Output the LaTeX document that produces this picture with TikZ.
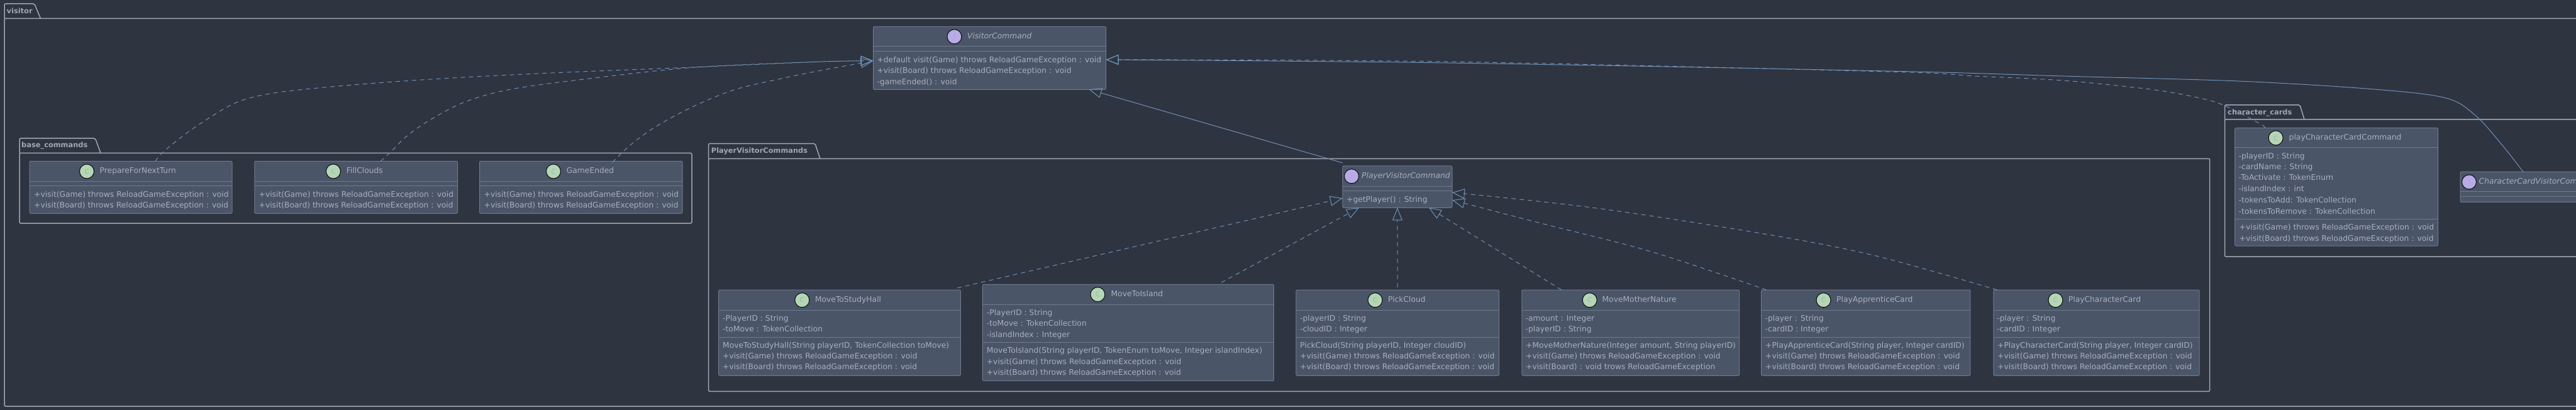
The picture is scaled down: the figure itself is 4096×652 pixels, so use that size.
\documentclass[tikz,border=0pt]{standalone}
\usepackage{fontspec}
\setmainfont{DejaVu Sans}
\usetikzlibrary{arrows.meta}
\definecolor{bgc}{HTML}{2E3440}
\definecolor{boxc}{HTML}{4A5568}
\definecolor{boxl}{HTML}{6F7A8C}
\definecolor{txtc}{HTML}{AAB0BC}
\definecolor{pkgc}{HTML}{A0A6B2}
\definecolor{conc}{HTML}{6F93B8}
\definecolor{cgreen}{HTML}{B4D6B4}
\definecolor{cpurple}{HTML}{B9ABE6}
\definecolor{cletter}{HTML}{A9ACBC}
\tikzset{
  classbox/.style={draw=boxl,fill=boxc,line width=1pt,rounded corners=2pt,inner sep=0pt,outer sep=0pt},
  sepline/.style={draw=boxl,line width=1pt},
  pkgline/.style={draw=pkgc,line width=1.5pt,rounded corners=2pt},
  pkglabel/.style={anchor=mid west,inner sep=0pt,text=pkgc,font=\fontsize{11.4}{13}\selectfont\bfseries},
  member/.style={anchor=mid west,inner sep=0pt,text=txtc,font=\fontsize{12.3}{14}\selectfont},
  ctitle/.style={anchor=mid west,inner sep=0pt,text=txtc,font=\fontsize{12.3}{14}\selectfont},
  ititle/.style={anchor=mid west,inner sep=0pt,text=txtc,font=\fontsize{12.3}{14}\selectfont\itshape},
  badge/.style={circle,draw=black!80!bgc,line width=1pt,minimum size=23pt,inner sep=0pt,text=cletter,font=\fontsize{10}{12}\selectfont},
  impl/.style={draw=conc,line width=1pt,dash pattern=on 7pt off 6pt,-{Triangle[open,length=20pt,width=16pt]}},
  ext/.style={draw=conc,line width=1pt,-{Triangle[open,length=20pt,width=16pt]}}
}
\newcommand{\pkgframe}[7]{% x1 ytab r1 r2 yline x2 y2
  \draw[pkgline] (#1,#5) -- (#1,#2) -- (#3,#2) -- (#4,#5);
  \draw[pkgline] (#1,#5) rectangle (#6,#7);
}
\newcommand{\cbox}[7]{% name x1 y1 x2 y2 yh ys
  \pgfmathsetmacro\cbw{#4-#2}\pgfmathsetmacro\cbh{#5-#3}
  \pgfmathsetmacro\cbx{(#2+#4)/2}\pgfmathsetmacro\cby{(#3+#5)/2}
  \node[classbox,minimum width=\cbw pt,minimum height=\cbh pt] (#1) at (\cbx,\cby) {};
  \draw[sepline] (#2,#6) -- (#4,#6);
  \draw[sepline] (#2,#7) -- (#4,#7);
}
\newcommand{\chead}[6]{%
  \node[badge,fill=cgreen] (#1-c) at (#2,#3) {C};
  \node[ctitle] (#1-t) at (#4,#5) {#6};
}
\newcommand{\ihead}[6]{%
  \node[badge,fill=cpurple] (#1-c) at (#2,#3) {I};
  \node[ititle] (#1-t) at (#4,#5) {#6};
}
\newcommand{\mline}[5]{\node[member] (#1-#2) at (#3,#4) {#5};}
\newcommand{\vGame}{+visit(Game) throws ReloadGameException : void}
\newcommand{\vBoard}{+visit(Board) throws ReloadGameException : void}
\begin{document}
\begin{tikzpicture}[x=1pt,y=-1pt]
\useasboundingbox (0,0) rectangle (4096,652);
\clip (0,0) rectangle (4096,652);
\fill[bgc] (0,0) rectangle (4096,652);

% packages
\pkgframe{7}{6}{54.7}{64.5}{29.3}{4200}{646}
\node[pkglabel] (lvisitor) at (10.5,18.3) {visitor};
\pkgframe{31}{220}{151.5}{160}{243.5}{1100}{355}
\node[pkglabel] (lbase) at (34,232) {base\_commands};
\pkgframe{1126.7}{228.3}{1296}{1304}{252.3}{3513.7}{622.3}
\node[pkglabel] (lplayer) at (1130.7,240.3) {PlayerVisitorCommands};
\pkgframe{3537.5}{167}{3657}{3664}{190}{4200}{408}
\node[pkglabel] (lchar) at (3542,179.6) {character\_cards};

% VisitorCommand
\cbox{vc}{1388.6}{42.3}{1758.5}{142.3}{74}{82}
\ihead{vc}{1517.5}{58.3}{1538}{59}{VisitorCommand}
\mline{vc}{1}{1394.4}{96.3}{+default visit(Game) throws ReloadGameException : void}
\mline{vc}{2}{1394.4}{113.7}{+visit(Board) throws ReloadGameException : void}
\mline{vc}{3}{1394.4}{131.3}{-gameEnded() : void}

% base commands
\cbox{pfnt}{47}{256.3}{369}{339.3}{288.3}{296}
\chead{pfnt}{138}{272.5}{158.5}{273}{PrepareForNextTurn}
\mline{pfnt}{1}{54}{310.3}{\vGame}
\mline{pfnt}{2}{54}{327.3}{\vBoard}
\cbox{fc}{404.8}{256.3}{727.5}{339.3}{288.3}{296}
\chead{fc}{530}{272.5}{550.7}{273}{FillClouds}
\mline{fc}{1}{411.5}{310.3}{\vGame}
\mline{fc}{2}{411.5}{327.3}{\vBoard}
\cbox{ge}{762.5}{256.3}{1085}{339.3}{288.3}{296}
\chead{ge}{880}{272.5}{900.7}{273}{GameEnded}
\mline{ge}{1}{769.5}{310.3}{\vGame}
\mline{ge}{2}{769.5}{327.3}{\vBoard}

% PlayerVisitorCommand
\cbox{pvc}{2134.8}{264}{2309}{330.3}{296.3}{304}
\ihead{pvc}{2149}{280.3}{2165}{281}{PlayerVisitorCommand}
\mline{pvc}{1}{2141}{318.7}{+getPlayer() : String}

% player commands
\cbox{msh}{1142.7}{461}{1527.3}{597.3}{493.3}{536}
\chead{msh}{1275.4}{477.3}{1295.8}{478}{MoveToStudyHall}
\mline{msh}{1}{1149}{507.3}{-PlayerID : String}
\mline{msh}{2}{1149}{524.3}{-toMove : TokenCollection}
\mline{msh}{3}{1149}{550.3}{MoveToStudyHall(String playerID, TokenCollection toMove)}
\mline{msh}{4}{1149}{567.3}{\vGame}
\mline{msh}{5}{1149}{585}{\vBoard}

\cbox{mti}{1562.4}{452.3}{2025.4}{605.7}{484.3}{544.3}
\chead{mti}{1745.4}{468.3}{1766.4}{469}{MoveToIsland}
\mline{mti}{1}{1568.7}{498.3}{-PlayerID : String}
\mline{mti}{2}{1568.7}{515.3}{-toMove : TokenCollection}
\mline{mti}{3}{1568.7}{533.3}{-islandIndex : Integer}
\mline{mti}{4}{1568.7}{558.3}{MoveToIsland(String playerID, TokenEnum toMove, Integer islandIndex)}
\mline{mti}{5}{1568.7}{576.3}{\vGame}
\mline{mti}{6}{1568.7}{594}{\vBoard}

\cbox{pc}{2060.8}{461}{2383.5}{597.3}{493.3}{536}
\chead{pc}{2186.5}{477.3}{2206.9}{478}{PickCloud}
\mline{pc}{1}{2067}{507.3}{-playerID : String}
\mline{pc}{2}{2067}{524.3}{-cloudID : Integer}
\mline{pc}{3}{2067}{550.3}{PickCloud(String playerID, Integer cloudID)}
\mline{pc}{4}{2067}{567.3}{\vGame}
\mline{pc}{5}{2067}{585}{\vBoard}

\cbox{mmn}{2419.9}{461}{2765.5}{597.3}{493.3}{536}
\chead{mmn}{2527.7}{477.3}{2547.4}{478}{MoveMotherNature}
\mline{mmn}{1}{2425.5}{507.3}{-amount : Integer}
\mline{mmn}{2}{2425.5}{524.3}{-playerID : String}
\mline{mmn}{3}{2426}{550.3}{+MoveMotherNature(Integer amount, String playerID)}
\mline{mmn}{4}{2426}{567.3}{\vGame}
\mline{mmn}{5}{2426}{585}{+visit(Board) : void trows ReloadGameException}

\cbox{pac}{2800.6}{461}{3132.8}{597.3}{493.3}{536}
\chead{pac}{2899.5}{477.3}{2920}{478}{PlayApprenticeCard}
\mline{pac}{1}{2806.5}{507.3}{-player : String}
\mline{pac}{2}{2806.5}{524.3}{-cardID : Integer}
\mline{pac}{3}{2807}{550.3}{+PlayApprenticeCard(String player, Integer cardID)}
\mline{pac}{4}{2807}{567.3}{\vGame}
\mline{pac}{5}{2807}{585}{\vBoard}

\cbox{pcc}{3169.8}{461}{3497}{597.3}{493.3}{536}
\chead{pcc}{3268.4}{477.3}{3288.7}{478}{PlayCharacterCard}
\mline{pcc}{1}{3175}{507.3}{-player : String}
\mline{pcc}{2}{3175}{524.3}{-cardID : Integer}
\mline{pcc}{3}{3176}{550.3}{+PlayCharacterCard(String player, Integer cardID)}
\mline{pcc}{4}{3176}{567.3}{\vGame}
\mline{pcc}{5}{3176}{585}{\vBoard}

% character cards
\cbox{pccc}{3553.6}{203.5}{3876.5}{391}{235}{348}
\chead{pccc}{3618.6}{219.4}{3639.5}{220}{playCharacterCardCommand}
\mline{pccc}{1}{3559.5}{249.6}{-playerID : String}
\mline{pccc}{2}{3559.5}{266.5}{-cardName : String}
\mline{pccc}{3}{3559.5}{284}{-ToActivate : TokenEnum}
\mline{pccc}{4}{3559.5}{301.4}{-islandIndex : int}
\mline{pccc}{5}{3559.5}{319.4}{-tokensToAdd: TokenCollection}
\mline{pccc}{6}{3559.5}{337.3}{-tokensToRemove : TokenCollection}
\mline{pccc}{7}{3560.5}{362.3}{\vGame}
\mline{pccc}{8}{3560.5}{380.3}{\vBoard}

\cbox{ccvc}{3912}{273.2}{4260}{321.5}{305}{313}
\ihead{ccvc}{3926}{289.4}{3941.5}{290}{CharacterCardVisitorCommand}

% connectors to VisitorCommand, left side
\draw[impl] plot[smooth,tension=.55] coordinates {([xshift=39pt]pfnt.north) (256,245) (277,227) (309,203) (358,172) (393,157) (449,146) (561,135) (702,125) (877,116) (1100,107) (1300,98.3) ([yshift=-4.4pt]vc.west)};
\draw[impl] plot[smooth,tension=.55] coordinates {([xshift=39pt]fc.north) (621,242) (645,218) (680,193) (737,163) (807,143) (912,128) (1100,107.5) (1300,98.3) ([yshift=-4.4pt]vc.west)};
\draw[impl] plot[smooth,tension=.55] coordinates {([xshift=50pt,yshift=-2pt]ge.north) (1003,230) (1045,200) (1103,169) (1167,143) (1233,127) (1300,113) ([yshift=-4.4pt]vc.west)};
% connectors to VisitorCommand, right side
\draw[ext] plot[smooth,tension=.55] coordinates {([xshift=-74pt]ccvc.north) (3978,230) (3937,184.5) (3888,155.6) (3769,141.5) (3559,129) (3280,121) (3000,113) (2300,100) ([yshift=-2.7pt]vc.east)};
\draw[impl] plot[smooth,tension=.55] coordinates {([xshift=-114pt]pccc.north) (3594,197) (3535,167) (3489,154) (3419,142) (3280,128) (3140,121) (3000,114) (2300,98) ([yshift=-2.5pt]vc.east)};
\draw[ext] ([yshift=5pt]pvc.north west) -- ([xshift=158pt]vc.south);
% connectors to PlayerVisitorCommand
\draw[impl] ([xshift=187pt,yshift=3pt]msh.north) -- ([yshift=-17.9pt]pvc.west);
\draw[impl] ([xshift=148pt,yshift=3pt]mti.north) -- ([xshift=-61pt]pvc.south);
\draw[impl] ([yshift=4pt]pc.north) -- (pvc.south);
\draw[impl] ([xshift=-110pt]mmn.north) -- ([xshift=50pt]pvc.south);
\draw[impl] plot[smooth,tension=.55] coordinates {([xshift=-158pt]pac.north) (2625,400) (2446,354) ([yshift=-21pt]pvc.east)};
\draw[impl] plot[smooth,tension=.55] coordinates {([xshift=-158pt]pcc.north) (2982,406.7) (2804,371.7) (2536,330.7) ([yshift=-9pt]pvc.east)};
\end{tikzpicture}
\end{document}
